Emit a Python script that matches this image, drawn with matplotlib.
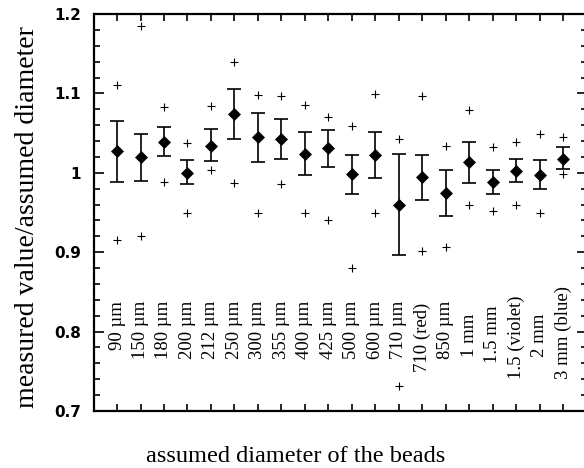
import numpy as np
import matplotlib
matplotlib.use('Agg')
import matplotlib.pyplot as plt
from matplotlib.ticker import MultipleLocator, FixedLocator

# bead sizes (category labels)
sizes = ['90 \u00b5m', '150 \u00b5m', '180 \u00b5m', '200 \u00b5m', '212 \u00b5m', '250 \u00b5m',
         '300 \u00b5m', '355 \u00b5m', '400 \u00b5m', '425 \u00b5m', '500 \u00b5m', '600 \u00b5m',
         '710 \u00b5m', '710 (red)', '850 \u00b5m', '1 mm', '1.5 mm', '1.5 (violet)',
         '2 mm', '3 mm (blue)']

# mean ratio, error bar ends, extreme values
mean_ratio = [1.027, 1.020, 1.039, 1.000, 1.034, 1.074, 1.045, 1.043, 1.024, 1.031,
              0.998, 1.023, 0.960, 0.995, 0.974, 1.013, 0.988, 1.002, 0.997, 1.018]
err_upper = [1.065, 1.049, 1.058, 1.016, 1.055, 1.105, 1.075, 1.068, 1.051, 1.054,
             1.023, 1.052, 1.024, 1.023, 1.003, 1.039, 1.003, 1.017, 1.016, 1.032]
err_lower = [0.988, 0.990, 1.021, 0.986, 1.015, 1.043, 1.013, 1.017, 0.997, 1.007,
             0.973, 0.994, 0.896, 0.966, 0.946, 0.987, 0.973, 0.988, 0.979, 1.005]
max_ratio = [1.110, 1.185, 1.083, 1.037, 1.084, 1.139, 1.098, 1.097, 1.086, 1.070,
             1.059, 1.099, 1.042, 1.097, 1.034, 1.079, 1.032, 1.039, 1.049, 1.045]
min_ratio = [0.915, 0.920, 0.988, 0.950, 1.003, 0.987, 0.950, 0.986, 0.950, 0.940,
             0.880, 0.950, 0.732, 0.901, 0.906, 0.959, 0.952, 0.959, 0.950, 0.999]

# where the top of each rotated label sits (data units)
label_top = [0.839] * 13 + [0.836, 0.839, 0.823, 0.833, 0.845, 0.823, 0.858]

serif = ['Liberation Serif', 'DejaVu Serif']

x = np.arange(1, len(sizes) + 1)
mean_ratio = np.array(mean_ratio)
yerr = [mean_ratio - np.array(err_lower), np.array(err_upper) - mean_ratio]

fig = plt.figure(figsize=(5.84, 4.68), dpi=100)
ax = fig.add_axes([93.5 / 584, 57 / 468, 493.5 / 584, 397 / 468])

ax.errorbar(x, mean_ratio, yerr=yerr, fmt='none', ecolor='black', elinewidth=1.2,
            capsize=5, capthick=1.2)
ax.plot(x, mean_ratio, 'D', color='black', markersize=6, markeredgewidth=0.5)
ax.plot(x, max_ratio, '+', color='black', markersize=5.5, markeredgewidth=0.8)
ax.plot(x, min_ratio, '+', color='black', markersize=5.5, markeredgewidth=0.8)

for xi, lab, top in zip(x, sizes, label_top):
    ax.text(xi, top, lab, rotation=90, ha='center', va='top', fontsize=13.5,
            family=serif)

ax.set_xlim(0, 21)
ax.set_ylim(0.7, 1.2)
ax.xaxis.set_major_locator(FixedLocator(x))
ax.set_xticklabels([])
ax.yaxis.set_major_locator(FixedLocator([0.7, 0.8, 0.9, 1.0, 1.1, 1.2]))
ax.set_yticklabels(['0.7', '0.8', '0.9', '1', '1.1', '1.2'], fontsize=11,
                   fontweight='bold', family='DejaVu Sans')
ax.yaxis.set_minor_locator(MultipleLocator(0.02))

ax.tick_params(axis='both', which='both', direction='in', width=1.2,
               top=True, right=True)
ax.tick_params(axis='x', which='major', length=5)
ax.tick_params(axis='y', which='major', length=7, pad=9)
ax.tick_params(axis='y', which='minor', length=4)
for s in ax.spines.values():
    s.set_linewidth(1.6)

fig.text(296 / 584, 1 - 456 / 468, 'assumed diameter of the beads', ha='center',
         va='center', fontsize=17.5, family=serif)
fig.text(28 / 584, 1 - 217 / 468, 'measured value/assumed diameter', ha='center',
         va='center', rotation=90, fontsize=20, family=serif)

fig.savefig('out.png', dpi=100)
